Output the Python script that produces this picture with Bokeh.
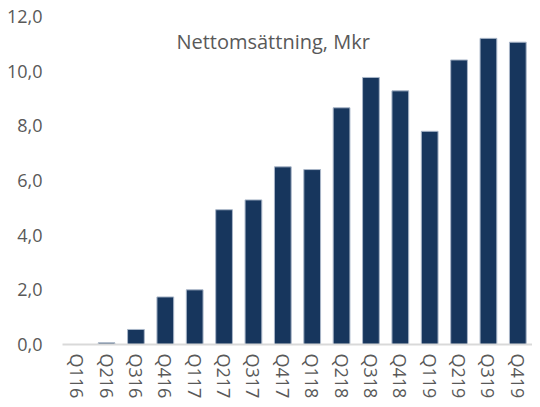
from bokeh.plotting import figure
from bokeh.models import FactorRange, Range1d, FixedTicker, Label, ColumnDataSource
from bokeh.embed import file_html
from bokeh.resources import INLINE

quarters = ["Q116", "Q216", "Q316", "Q416", "Q117", "Q217", "Q317", "Q417",
            "Q118", "Q218", "Q318", "Q418", "Q119", "Q219", "Q319", "Q419"]
revenue = [0.0, 0.06, 0.55, 1.74, 2.0, 4.93, 5.29, 6.5,
           6.4, 8.66, 9.77, 9.28, 7.8, 10.41, 11.2, 11.06]
y_ticks = [0, 2, 4, 6, 8, 10, 12]
y_tick_labels = ["0,0", "2,0", "4,0", "6,0", "8,0", "10,0", "12,0"]
title_text = "Nettomsättning, Mkr"

FONT = "Open Sans"
GREY = "#595959"

src = ColumnDataSource(dict(q=quarters, v=revenue))

p = figure(width=532, height=402, output_backend="svg", toolbar_location=None,
           x_range=FactorRange(factors=quarters), y_range=Range1d(0, 12),
           min_border_left=62, min_border_right=0, min_border_top=16, min_border_bottom=58)

p.vbar(x="q", top="v", width=0.57, source=src, fill_color="#17365d",
       line_color="#a9b6c8", line_width=1)

p.xgrid.grid_line_color = None
p.ygrid.grid_line_color = None
p.outline_line_color = None

yax = p.yaxis[0]
yax.ticker = FixedTicker(ticks=y_ticks)
yax.major_label_overrides = {t: l for t, l in zip(y_ticks, y_tick_labels)}
yax.axis_line_color = None
yax.major_tick_line_color = None
yax.minor_tick_line_color = None
yax.major_tick_out = 0
yax.major_label_standoff = 20
yax.major_label_text_font = FONT
yax.major_label_text_font_size = "18px"
yax.major_label_text_color = GREY

xax = p.xaxis[0]
xax.axis_line_color = "#d9d9d9"
xax.axis_line_width = 2
xax.major_tick_line_color = None
xax.minor_tick_line_color = None
xax.major_tick_out = 0
xax.major_label_orientation = "vertical"
xax.major_label_standoff = 9
xax.major_label_text_font = FONT
xax.major_label_text_font_size = "18px"
xax.major_label_text_color = GREY

p.add_layout(Label(x=7.17, y=11.08, text=title_text, text_align="center",
                   text_baseline="middle", text_font=FONT, text_font_size="20px",
                   text_color=GREY))

open("out.html", "w").write(file_html(p, INLINE))
